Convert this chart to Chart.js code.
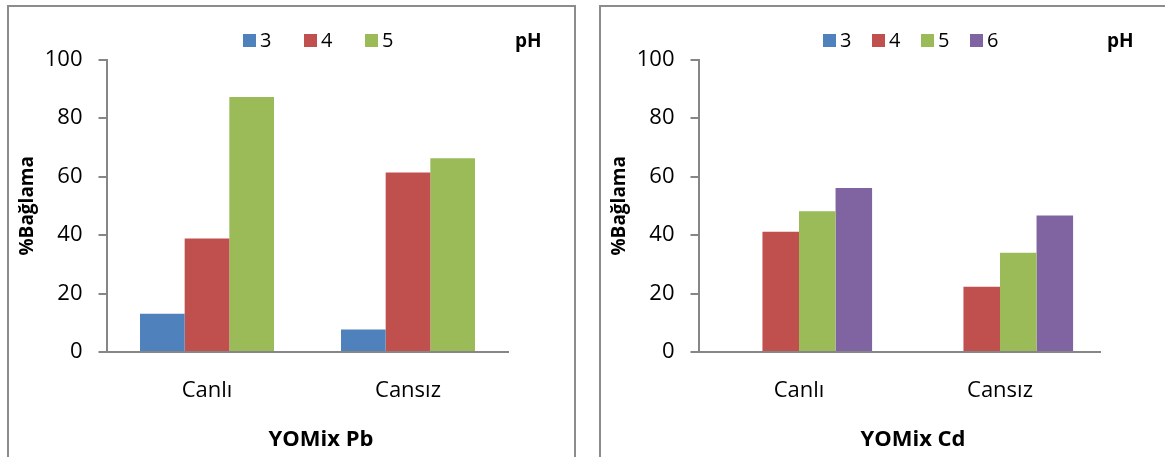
<!DOCTYPE html>
<html>
<head>
<meta charset="utf-8">
<script src="https://cdn.jsdelivr.net/npm/chart.js@4/dist/chart.umd.min.js"></script>
<style>
  body { margin: 0; background: #fff; }
  .box { position: absolute; top: 5px; width: 565px; height: 460px; border: 2px solid #8c8c8c; background: #fff; }
  #boxPb { left: 7px; }
  #boxCd { left: 599px; }
  canvas { display: block; }
</style>
</head>
<body>
<div class="box" id="boxPb"><canvas id="chartPb" width="565" height="450"></canvas></div>
<div class="box" id="boxCd"><canvas id="chartCd" width="565" height="450"></canvas></div>
<script>
// --- Data ---
const CATEGORIES = ['Canlı', 'Cansız'];
const Y_TICKS = [0, 20, 40, 60, 80, 100];

const PB_PH = ['3', '4', '5'];
const PB_PH3 = [13.1, 7.7];
const PB_PH4 = [38.8, 61.4];
const PB_PH5 = [87.2, 66.2];

const CD_PH = ['3', '4', '5', '6'];
const CD_PH3 = [0, 0];
const CD_PH4 = [41.1, 22.3];
const CD_PH5 = [48.1, 33.9];
const CD_PH6 = [56.1, 46.7];

const COLORS = ['#4F81BD', '#C0504D', '#9BBB59', '#8064A2'];
const AXIS_COLOR = '#868686';
const GAP = 1.5; // gap between groups, in bar widths

Chart.defaults.font.family = '"Open Sans", sans-serif';
Chart.defaults.color = '#000';

// legend row above the plot, the "pH" label, and the title under the axis
const chartText = {
  id: 'chartText',
  afterDraw(chart, args, opts) {
    const ctx = chart.ctx;
    ctx.save();
    ctx.textBaseline = 'alphabetic';
    ctx.font = '20px "Open Sans"';
    chart.data.datasets.forEach((ds, i) => {
      const x = opts.x + i * opts.step;
      ctx.fillStyle = ds.backgroundColor;
      ctx.fillRect(x, opts.y - 13, 13, 13);
      ctx.fillStyle = '#000';
      ctx.fillText(ds.label, x + 17, opts.y);
    });
    ctx.fillStyle = '#000';
    ctx.font = 'bold 19px "Open Sans"';
    ctx.fillText(opts.unit, opts.unitX, opts.y);
    ctx.font = 'bold 22px "Open Sans"';
    ctx.textAlign = 'center';
    ctx.fillText(opts.title, opts.titleX, opts.titleY);
    ctx.restore();
  },
};

function makeChart(id, phLabels, series, title, legendX, legendStep) {
  const n = phLabels.length;
  return new Chart(document.getElementById(id), {
    type: 'bar',
    data: {
      labels: CATEGORIES,
      datasets: phLabels.map((ph, i) => ({
        label: ph,
        data: series[i],
        backgroundColor: COLORS[i],
        borderWidth: 0,
        barPercentage: 1,
        categoryPercentage: n / (n + GAP),
      })),
    },
    plugins: [chartText],
    options: {
      responsive: false,
      animation: false,
      devicePixelRatio: 1,
      layout: { padding: { left: 4, right: 65.5, top: 52.5, bottom: 6 } },
      plugins: {
        legend: { display: false },
        tooltip: { enabled: false },
        chartText: {
          x: legendX, step: legendStep, y: 40,
          unit: 'pH', unitX: 506,
          title, titleX: 312, titleY: 439,
        },
      },
      scales: {
        x: {
          grid: { display: false, drawTicks: false },
          border: { color: AXIS_COLOR, width: 2 },
          ticks: { color: '#000', font: { size: 22 }, padding: 26 },
          afterFit: (s) => { s.height = 99; },
        },
        y: {
          min: Y_TICKS[0],
          max: Y_TICKS[Y_TICKS.length - 1],
          ticks: { stepSize: Y_TICKS[1] - Y_TICKS[0], color: '#000', font: { size: 22 }, padding: 16 },
          grid: { drawOnChartArea: false, tickLength: 8, color: AXIS_COLOR, lineWidth: 2 },
          border: { color: AXIS_COLOR, width: 2 },
          title: { display: true, text: '%Bağlama', color: '#000', font: { size: 19, weight: 'bold' }, padding: { top: 3, bottom: 0 } },
          afterFit: (s) => { s.width = 93.5; },
        },
      },
    },
  });
}

// --- Init ---
makeChart('chartPb', PB_PH, [PB_PH3, PB_PH4, PB_PH5], 'YOMix Pb', 234, 61);
makeChart('chartCd', CD_PH, [CD_PH3, CD_PH4, CD_PH5, CD_PH6], 'YOMix Cd', 222, 49);
</script>
</body>
</html>
